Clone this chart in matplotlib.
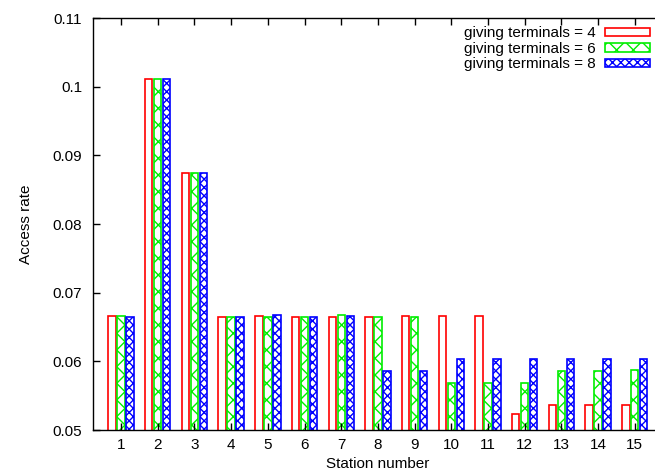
import numpy as np
from matplotlib import pyplot as plt

plt.rcParams['font.family'] = ['Liberation Sans', 'DejaVu Sans']
plt.rcParams['hatch.linewidth'] = 1.0

# dados
estacoes = list(range(1, 16))
terminais4 = [0.06655, 0.1011, 0.0874, 0.0665, 0.0666, 0.0665, 0.0664, 0.0664,
              0.06655, 0.0666, 0.06655, 0.0523, 0.0536, 0.0537, 0.0537]
terminais6 = [0.06655, 0.1011, 0.0874, 0.0665, 0.0664, 0.0664, 0.0667, 0.0665,
              0.0665, 0.0569, 0.0569, 0.0568, 0.0586, 0.0586, 0.0587]
terminais8 = [0.0664, 0.1011, 0.0875, 0.0665, 0.0667, 0.0664, 0.0666, 0.0586,
              0.0586, 0.0603, 0.0604, 0.0604, 0.0603, 0.0603, 0.0604]
rotulos = ["giving terminals = 4", "giving terminals = 6", "giving terminals = 8"]

fig = plt.figure(figsize=(6.55, 4.75), dpi=100)
ax = fig.add_axes([0.1425, 0.0947, 0.869, 0.8674])

x = np.array(estacoes)
largura = 0.2
passo = 0.245

ax.bar(x - passo, terminais4, largura, facecolor='white',
       edgecolor='#ff0000', linewidth=1.2, label=rotulos[0])
ax.bar(x, terminais6, largura, facecolor='white', edgecolor='#00ee00',
       linewidth=1.2, hatch='xx', label=rotulos[1])
ax.bar(x + passo, terminais8, largura, facecolor='white', edgecolor='#0000ff',
       linewidth=1.2, hatch='xxxx', label=rotulos[2])

ax.set_xlim(0.245, 15.755)
ax.set_ylim(0.05, 0.11)
ax.set_xticks(estacoes)
ax.set_yticks([0.05, 0.06, 0.07, 0.08, 0.09, 0.1, 0.11])
ax.set_yticklabels(['0.05', '0.06', '0.07', '0.08', '0.09', '0.1', '0.11'])
ax.tick_params(direction='in', length=5, width=1, top=True, right=True,
               labelsize=11, colors='black')
ax.tick_params(axis='y', pad=8)
ax.tick_params(axis='x', pad=6)
for s in ax.spines.values():
    s.set_linewidth(1.0)

ax.set_xlabel('Station number', fontsize=11, labelpad=3)
ax.set_ylabel('Access rate', fontsize=11, labelpad=14)

leg = ax.legend(loc='upper right', bbox_to_anchor=(0.0, 0.0, 0.992, 1.0),
                frameon=False, markerfirst=False, fontsize=11,
                handlelength=2.9, handleheight=0.45, labelspacing=0.1,
                handletextpad=0.6, borderaxespad=0.15)

plt.savefig('out.png', dpi=100)
